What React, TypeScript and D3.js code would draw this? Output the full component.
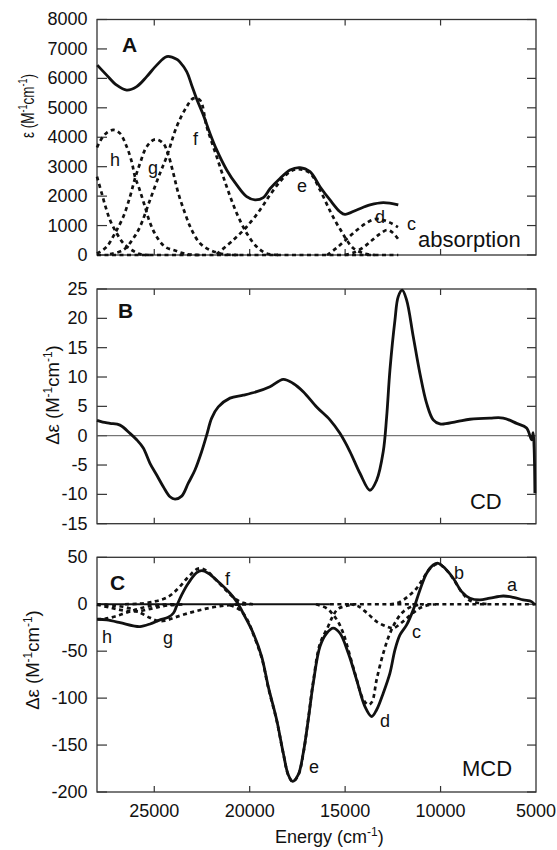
import React from "react";
import * as d3 from "d3";

type Pt = [number, number];

// energy axis (cm-1), shared by the three panels
const xTicks = [25000, 20000, 15000, 10000];
const xTickLabels = [25000, 20000, 15000, 10000, 5000];
const absTicks = [0, 1000, 2000, 3000, 4000, 5000, 6000, 7000, 8000];
const cdTicks = [-15, -10, -5, 0, 5, 10, 15, 20, 25];
const mcdTicks = [-200, -150, -100, -50, 0, 50];

// panel A: absorption and its gaussian components
const absSolid: Pt[] = [
  [27984, 6450], [27492, 6110], [26968, 5770], [26444, 5600], [25920, 5720], [25396, 6060],
  [24872, 6450], [24348, 6740], [23824, 6650], [23652, 6550], [23301, 6230], [23039, 5770],
  [22777, 5300], [22431, 4760], [22080, 4130], [21729, 3570], [21205, 2890], [20681, 2380],
  [20157, 1980], [19722, 1870], [19288, 1950], [18937, 2250], [18413, 2600], [17889, 2890],
  [17365, 2970], [16841, 2830], [16317, 2320], [15793, 1870], [15269, 1470], [15007, 1380],
  [14394, 1530], [13697, 1700], [12999, 1780], [12215, 1700],
];
const absI: Pt[] = [
  [28000, 2660], [27754, 2100], [27529, 1590], [27282, 1130], [26968, 740], [26622, 400],
  [26182, 170], [25748, 30], [25224, 0],
];
const absH: Pt[] = [
  [28000, 3650], [27754, 3960], [27492, 4150], [27146, 4250], [26795, 4130], [26444, 3680],
  [26182, 3170], [26010, 2660], [25784, 2250], [25538, 1750], [25224, 1100], [24873, 620],
  [24438, 280], [23914, 150], [23301, 30], [22605, 0],
];
const absG: Pt[] = [
  [28000, 50], [27843, 110], [27492, 280], [27057, 740], [26622, 1300], [26271, 1980],
  [26009, 2600], [25747, 3110], [25396, 3680], [24961, 3930], [24527, 3790], [24265, 3400],
  [24003, 2780], [23741, 2100], [23390, 1420], [23039, 850], [22604, 400], [22080, 170],
  [21383, 30], [20508, 0],
];
const absF: Pt[] = [
  [27319, 30], [26622, 170], [26114, 550], [25747, 960], [25223, 1870], [24699, 2780],
  [24348, 3340], [23824, 4360], [23301, 5040], [22955, 5320], [22604, 5260], [22253, 4360],
  [21729, 3340], [21205, 2320], [20681, 1420], [20157, 740], [19633, 280], [19110, 50], [18413, 0],
];
const absE: Pt[] = [
  [21729, 30], [20859, 510], [20157, 960], [19460, 1530], [18937, 2040], [18413, 2490],
  [17889, 2830], [17454, 2920], [16841, 2780], [16317, 2210], [15793, 1500], [15441, 1070],
  [15180, 790], [14918, 510], [14572, 230], [13959, 40], [13436, 0],
];
const absD: Pt[] = [
  [15950, 0], [15427, 250], [14903, 550], [14379, 850], [13855, 1100], [13436, 1220],
  [13069, 1200], [12650, 1100], [12231, 950],
];
const absC: Pt[] = [
  [15007, 0], [14483, 100], [13959, 300], [13593, 500], [13174, 720], [12807, 850],
  [12545, 780], [12231, 550],
];
const absBaseline: Pt[] = [[28000, 0], [12215, 0]];

// panel B: CD
const cd: Pt[] = [
  [28000, 2.6], [27700, 2.3], [27319, 2.1], [26795, 1.8], [26271, 0.4], [25920, -0.7],
  [25575, -2.1], [25224, -4.7], [24873, -6.7], [24527, -8.7], [24176, -10.4], [23914, -10.8],
  [23563, -10.3], [23218, -8.1], [22867, -5.85], [22516, -2.7], [22254, 0.1], [21992, 3.0],
  [21646, 4.9], [21033, 6.4], [20337, 6.9], [19635, 7.5], [18938, 8.35], [18242, 9.6],
  [17718, 8.9], [17194, 7.5], [16492, 4.9], [15796, 2.7], [15272, 0.4], [14748, -2.7],
  [14224, -6.4], [13700, -9.3], [13349, -7.6], [13003, -2.7], [12825, 3.2], [12652, 11.2],
  [12390, 19.7], [12218, 23.7], [12009, 24.8], [11778, 23.1], [11432, 16.9], [11081, 10.6],
  [10730, 5.5], [10385, 2.7], [10034, 2.0], [9159, 2.4], [8462, 2.8], [7415, 3.0],
  [6718, 3.0], [6016, 2.1], [5493, 1.3], [5231, -0.7], [5150, 0.5], [5100, -2], [5058, -9.8],
];

// panel C: MCD and its components
const mcd: Pt[] = [
  [27984, -16], [27492, -16.7], [26795, -19.6], [26099, -23], [25748, -23.8], [25224, -21],
  [24700, -16.7], [24265, -13.8], [24003, -9.6], [23825, -1.8], [23563, 9.9], [23218, 22.3],
  [22778, 33.6], [22516, 35.7], [22170, 33], [21557, 22.3], [21033, 11.7], [20683, 2.8],
  [20248, -13.2], [19813, -30.9], [19373, -55.7], [19027, -87.7], [18587, -123], [18242, -158.5],
  [17980, -181.6], [17749, -188.7], [17456, -181.6], [17194, -158.5], [16932, -123], [16670, -84],
  [16319, -45], [15968, -30.9], [15623, -25.5], [15272, -30.9], [14837, -52], [14397, -80.5],
  [13962, -109], [13611, -119.6], [13349, -112.4], [13003, -94.7], [12652, -73.4], [12390, -48.6],
  [12128, -32.7], [11778, -22], [11432, -6], [11081, 15.2], [10730, 33], [10385, 41.8],
  [10123, 43.6], [9772, 38.3], [9337, 27.7], [8897, 13.4], [8462, 6.4], [7938, 4.6],
  [7415, 6.4], [6718, 8.8], [6194, 7.4], [5670, 4.6], [5231, 2.8], [5058, -0.7],
];
const mcdH: Pt[] = [
  [28000, -16], [27581, -15.5], [27057, -13], [26533, -9.5], [26009, -6], [25485, -3],
  [24961, -1.2], [24437, -0.3], [23914, 0],
];
const mcdG2: Pt[] = [
  [28000, -0.5], [27319, -3.5], [26795, -6], [26271, -7.5], [25852, -7.5], [25328, -5.5],
  [24804, -3], [24175, -1], [23390, 0],
];
const mcdG: Pt[] = [
  [28000, 0], [27057, -1.5], [26271, -4.5], [25747, -9], [25223, -14.5], [24804, -17.8],
  [24437, -17.5], [23914, -14], [23128, -9], [22342, -5], [21556, -2], [20770, -0.5], [19984, 0],
];
const mcdF: Pt[] = [
  [26533, 0], [25836, 0.5], [24961, 3], [24265, 8], [23741, 17], [23217, 29], [22693, 38],
  [22290, 36], [21818, 27], [21294, 16], [20770, 6], [20351, 1.5], [19827, 0],
];
const mcdE: Pt[] = [
  [21032, -1], [20508, -6], [20089, -18], [19811, -32], [19371, -57], [19025, -89],
  [18585, -124], [18240, -159], [17978, -182], [17747, -189], [17454, -182], [17192, -159],
  [16930, -122], [16668, -82], [16317, -42], [15898, -24], [15636, -12.4], [15374, -5],
  [14903, -1.5], [14484, 0],
];
const mcdD: Pt[] = [
  [16527, 0], [15966, -4.3], [15636, -11], [15374, -18.5], [15096, -31], [14745, -55],
  [14394, -80], [14064, -101], [13786, -107], [13593, -104], [13347, -80], [12999, -52],
  [12650, -31], [12299, -16.7], [11953, -7.9], [11429, -1.8], [10921, 0],
];
const mcdC: Pt[] = [
  [14745, 0], [14326, -2], [13871, -9], [13347, -18.5], [12823, -23.8], [12477, -25.5],
  [12128, -21], [11777, -15], [11429, -9], [11079, -4], [10660, -1], [10241, 0],
];
const mcdB: Pt[] = [
  [12650, 0], [12299, 1], [11953, 4.6], [11602, 10], [11253, 17], [10905, 27.7], [10554, 38],
  [10120, 43], [9768, 38], [9333, 27], [8896, 13], [8461, 4], [7937, 1], [7413, 0],
];
const mcdZeroSolid: Pt[] = [[28000, 0], [15800, 0]];
const mcdZeroDashed: Pt[] = [[15800, 0], [5000, 0]];

// labels, placed in data units: [text, energy, value]
const absLabels: [string, number, number][] = [
  ["h", 27319, 3023], ["g", 25328, 2751], ["f", 22970, 3736], ["e", 17522, 2140],
  ["d", 13436, 1097], ["c", 11760, 849],
];
const mcdLabels: [string, number, number][] = [
  ["h", 27738, -41], ["g", 24542, -42], ["f", 21294, 20.5], ["e", 16893, -179.5],
  ["d", 13174, -130.5], ["c", 11498, -35.9], ["b", 9298, 26.9], ["a", 6521, 14.5],
];

const W = 557;
const H = 850;
const left = 97;
const right = 536;
const font = "'Liberation Sans', Arial, Helvetica, sans-serif";

const x = d3.scaleLinear().domain([28000, 5000]).range([left, right]);
const yA = d3.scaleLinear().domain([0, 8000]).range([255, 19.5]);
const yB = d3.scaleLinear().domain([-15, 25]).range([523.7, 289]);
const yC = d3.scaleLinear().domain([-200, 50]).range([792, 557.3]);

const mkLine = (y: d3.ScaleLinear<number, number>) =>
  d3
    .line<Pt>()
    .x((d) => x(d[0]))
    .y((d) => y(d[1]))
    .curve(d3.curveCatmullRom.alpha(0.5));

const Solid = ({ data, y, w = 2.8 }: { data: Pt[]; y: any; w?: number }) => (
  <path d={mkLine(y)(data) || ""} fill="none" stroke="#111" strokeWidth={w} strokeLinejoin="round" />
);
const Dashed = ({ data, y }: { data: Pt[]; y: any }) => (
  <path d={mkLine(y)(data) || ""} fill="none" stroke="#111" strokeWidth={2.7} strokeDasharray="4 3.5" />
);

const Frame = ({ y, ticks }: { y: d3.ScaleLinear<number, number>; ticks: number[] }) => {
  const [bottom, top] = y.range();
  return (
    <g>
      <rect x={left} y={top} width={right - left} height={bottom - top} fill="none" stroke="#333" strokeWidth={1.3} />
      {ticks.map((t) => (
        <g key={t}>
          <line x1={left} x2={left + 10} y1={y(t)} y2={y(t)} stroke="#333" strokeWidth={1.2} />
          <line x1={right - 9} x2={right} y1={y(t)} y2={y(t)} stroke="#333" strokeWidth={1.2} />
          <text x={87.5} y={y(t)} dy="0.33em" textAnchor="end" fontSize={18} fill="#111">
            {t}
          </text>
        </g>
      ))}
      {xTicks.map((t) => (
        <g key={t}>
          <line x1={x(t)} x2={x(t)} y1={top} y2={top + 6} stroke="#333" strokeWidth={1.2} />
          <line x1={x(t)} x2={x(t)} y1={bottom} y2={bottom - 6} stroke="#333" strokeWidth={1.2} />
        </g>
      ))}
    </g>
  );
};

const Unit = ({ prefix }: { prefix: string }) => (
  <>
    {prefix} (M
    <tspan dy={-7} fontSize={12}>-1</tspan>
    <tspan dy={7}>cm</tspan>
    <tspan dy={-7} fontSize={12}>-1</tspan>
    <tspan dy={7}>)</tspan>
  </>
);

export default function App() {
  return (
    <svg
      width={W}
      height={H}
      style={{ position: "absolute", left: 0, top: 0, background: "#fff" }}
      fontFamily={font}
    >
      {/* panel A */}
      <Frame y={yA} ticks={absTicks} />
      <Dashed data={absBaseline} y={yA} />
      {[absI, absH, absG, absF, absE, absD, absC].map((d, i) => (
        <Dashed key={i} data={d} y={yA} />
      ))}
      <Solid data={absSolid} y={yA} />
      {absLabels.map(([t, e, v]) => (
        <text key={t} x={x(e)} y={yA(v)} fontSize={18} fill="#111">
          {t}
        </text>
      ))}
      <text x={x(11184)} y={yA(282)} fontSize={22} fill="#111">absorption</text>
      <text x={x(26690)} y={yA(6906)} fontSize={21} fontWeight="bold" fill="#111">A</text>
      <text
        transform={`translate(34,106) rotate(-90)`}
        textAnchor="middle"
        fontSize={18}
        textLength={64}
        lengthAdjust="spacingAndGlyphs"
        fill="#111"
      >
        <Unit prefix="ε" />
      </text>

      {/* panel B */}
      <Frame y={yB} ticks={cdTicks} />
      <line x1={left} x2={right} y1={yB(0)} y2={yB(0)} stroke="#555" strokeWidth={1} />
      <Solid data={cd} y={yB} />
      <text x={x(26900)} y={yB(20.07)} fontSize={21} fontWeight="bold" fill="#111">B</text>
      <text x={x(8458)} y={yB(-12.5)} fontSize={22} fill="#111">CD</text>
      <text transform={`translate(58.5,395) rotate(-90)`} textAnchor="middle" fontSize={18.5} fill="#111">
        <Unit prefix="Δε" />
      </text>

      {/* panel C */}
      <Frame y={yC} ticks={mcdTicks} />
      <Solid data={mcdZeroSolid} y={yC} w={1.8} />
      <Dashed data={mcdZeroDashed} y={yC} />
      {[mcdH, mcdG2, mcdG, mcdF, mcdE, mcdD, mcdC, mcdB].map((d, i) => (
        <Dashed key={i} data={d} y={yC} />
      ))}
      <Solid data={mcd} y={yC} />
      {mcdLabels.map(([t, e, v]) => (
        <text key={t} x={x(e)} y={yC(v)} fontSize={18} fill="#111">
          {t}
        </text>
      ))}
      <text x={x(27319)} y={yC(15.2)} fontSize={21} fontWeight="bold" fill="#111">C</text>
      <text x={x(8877)} y={yC(-183.4)} fontSize={22} fill="#111">MCD</text>
      <text transform={`translate(38.5,660) rotate(-90)`} textAnchor="middle" fontSize={18.5} fill="#111">
        <Unit prefix="Δε" />
      </text>

      {/* energy axis */}
      {xTickLabels.map((t) => (
        <text key={t} x={x(t)} y={816.5} textAnchor="middle" fontSize={18} fill="#111">
          {t}
        </text>
      ))}
      <text x={275} y={843} fontSize={18} fill="#111">
        Energy (cm
        <tspan dy={-7} fontSize={12}>-1</tspan>
        <tspan dy={7}>)</tspan>
      </text>
    </svg>
  );
}
